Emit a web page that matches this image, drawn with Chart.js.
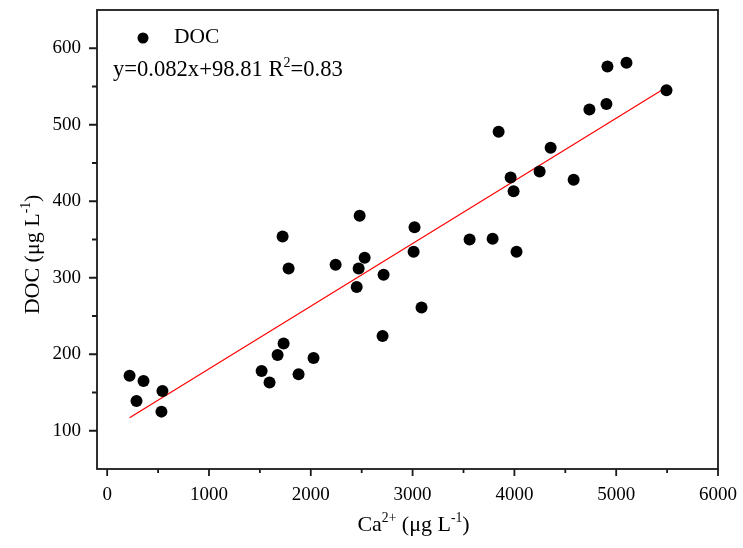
<!DOCTYPE html>
<html>
<head>
<meta charset="utf-8">
<script src="https://cdn.jsdelivr.net/npm/chart.js@4.4.1/dist/chart.umd.min.js"></script>
<style>
html,body{margin:0;padding:0;background:#fff}
</style>
</head>
<body>
<canvas id="c" width="743" height="548"></canvas>
<script>
// Ca2+ vs DOC
const caVals=[220,288,357,543,533,1517,1595,1674,1733,1723,1782,1880,2027,2244,2451,2470,2480,2529,2715,2705,3010,3019,3088,3560,3786,3845,4021,3963,3992,4248,4356,4582,4737,4904,4914,5101,5494];
const docVals=[172,139,165,152,125,178,163,199,214,354,312,174,195,317,288,312,381,326,304,224,334,366,261,350,351,491,334,431,413,439,470,428,520,527,576,581,545];
const fitX=[220,5494];
const fitY=[117,549];
const xTicks=[0,1000,2000,3000,4000,5000,6000];
const xMinor=[500,1500,2500,3500,4500,5500];
const yTicks=[100,200,300,400,500,600];
const yMinor=[150,250,350,450,550];
const eqText='y=0.082x+98.81 R';

const FONT='"Liberation Serif","Times New Roman",serif';

function runWidth(ctx,parts,size){let w=0;parts.forEach(p=>{ctx.font=`${p.sup?size*0.62:size}px ${FONT}`;w+=ctx.measureText(p.t).width;});return w;}
function drawRuns(ctx,parts,x,y,size){
  ctx.textAlign='left';ctx.textBaseline='alphabetic';
  parts.forEach(p=>{const s=p.sup?size*0.62:size;ctx.font=`${s}px ${FONT}`;ctx.fillText(p.t,x,p.sup?y-size*0.4:y);x+=ctx.measureText(p.t).width;});
}

const frame={id:'frame',afterDraw(ch){
  const {ctx,chartArea:a,scales:{x,y}}=ch;
  ctx.save();
  ctx.strokeStyle='#1a1a1a';ctx.lineWidth=1.8;
  ctx.strokeRect(a.left,a.top,a.right-a.left,a.bottom-a.top);
  ctx.beginPath();
  xTicks.forEach(v=>{const p=x.getPixelForValue(v);ctx.moveTo(p,a.bottom);ctx.lineTo(p,a.bottom+7);});
  xMinor.forEach(v=>{const p=x.getPixelForValue(v);ctx.moveTo(p,a.bottom);ctx.lineTo(p,a.bottom+4);});
  yTicks.forEach(v=>{const p=y.getPixelForValue(v);ctx.moveTo(a.left,p);ctx.lineTo(a.left-8,p);});
  yMinor.forEach(v=>{const p=y.getPixelForValue(v);ctx.moveTo(a.left,p);ctx.lineTo(a.left-5,p);});
  ctx.stroke();

  ctx.fillStyle='#000';
  // legend
  ctx.beginPath();ctx.arc(a.left+46,a.top+28,5.5,0,Math.PI*2);ctx.fill();
  drawRuns(ctx,[{t:'DOC'}],a.left+77,a.top+33,21.5);
  // equation
  drawRuns(ctx,[{t:eqText},{t:'2',sup:true},{t:'=0.83'}],a.left+16,a.top+66,22.6);

  // axis titles
  const xt=[{t:'Ca'},{t:'2+',sup:true},{t:' (\u03bcg L'},{t:'-1',sup:true},{t:')'}];
  const xw=runWidth(ctx,xt,22);
  drawRuns(ctx,xt,(a.left+a.right)/2+6-xw/2,531,22);
  const yt=[{t:'DOC (\u03bcg L'},{t:'-1',sup:true},{t:')'}];
  const yw=runWidth(ctx,yt,22);
  ctx.translate(39,(a.top+a.bottom)/2+15);ctx.rotate(-Math.PI/2);
  drawRuns(ctx,yt,-yw/2,0,22);
  ctx.restore();
}};

new Chart(document.getElementById('c'),{
  type:'scatter',
  data:{datasets:[
    {label:'DOC',data:caVals.map((v,i)=>({x:v,y:docVals[i]})),backgroundColor:'#000',borderWidth:0,pointRadius:6,pointHoverRadius:6},
    {label:'fit',type:'line',data:fitX.map((v,i)=>({x:v,y:fitY[i]})),borderColor:'#ff0000',borderWidth:1.2,pointRadius:0,fill:false}
  ]},
  options:{
    responsive:false,animation:false,devicePixelRatio:1,
    layout:{padding:{top:10,right:25,left:0,bottom:0}},
    plugins:{legend:{display:false},tooltip:{enabled:false}},
    scales:{
      x:{type:'linear',min:-100,max:6000,
        afterBuildTicks:s=>{s.ticks=xTicks.map(v=>({value:v}));},
        afterFit:s=>{s.height=79;s.paddingLeft=0;s.paddingRight=0;},
        grid:{display:false,drawTicks:false},border:{display:false},
        ticks:{color:'#000',font:{family:FONT,size:19},padding:15,maxRotation:0,callback:v=>String(v)}},
      y:{type:'linear',min:50,max:650,
        afterBuildTicks:s=>{s.ticks=yTicks.map(v=>({value:v}));},
        afterFit:s=>{s.width=97;s.paddingTop=0;s.paddingBottom=0;},
        grid:{display:false,drawTicks:false},border:{display:false},
        ticks:{color:'#000',font:{family:FONT,size:19},padding:16,callback:v=>String(v)}}
    }
  },
  plugins:[frame]
});
</script>
</body>
</html>
